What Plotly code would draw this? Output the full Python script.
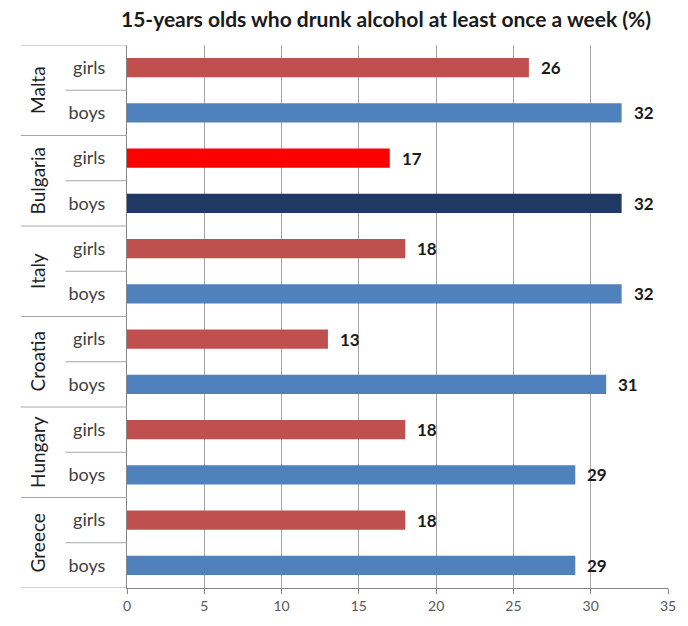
import plotly.graph_objects as go

# Data (bottom to top order)
countries = ["Greece", "Hungary", "Croatia", "Italy", "Bulgaria", "Malta"]
genders = ["boys", "girls"]
boys = [29, 29, 31, 32, 32, 32]
girls = [18, 18, 13, 18, 17, 26]
x_ticks = [0, 5, 10, 15, 20, 25, 30, 35]

GIRL_COLOR = "#C0504D"
BOY_COLOR = "#4F81BD"
HIGHLIGHT = {("Bulgaria", "girls"): "#FF0000", ("Bulgaria", "boys"): "#1F3864"}

cats, vals, colors, ticktext = [], [], [], []
for i, c in enumerate(countries):
    for g in genders:
        v = boys[i] if g == "boys" else girls[i]
        cats.append(f"{c}|{g}")
        vals.append(v)
        ticktext.append(g)
        base = BOY_COLOR if g == "boys" else GIRL_COLOR
        colors.append(HIGHLIGHT.get((c, g), base))

FONT = "Lato, Open Sans, sans-serif"
GRID = "#A6A6A6"

fig = go.Figure()
fig.add_trace(go.Bar(
    y=cats, x=vals, orientation="h",
    marker=dict(color=colors, line=dict(width=0)),
    width=0.42,
    hoverinfo="x+y",
))

# value labels
for cat, v in zip(cats, vals):
    fig.add_annotation(x=v, y=cat, xref="x", yref="y", text=f"<b>{v}</b>",
                       showarrow=False, xanchor="left", xshift=10,
                       font=dict(family=FONT, size=17, color="#1a1a1a"))

# country labels and separators
plot_w = 688 - 127 - 16
for i, c in enumerate(countries):
    fig.add_annotation(x=(37 - 127) / plot_w, y=2 * i + 0.5, xref="paper", yref="y",
                       text=c, textangle=-90, showarrow=False,
                       xanchor="center", yanchor="middle",
                       font=dict(family=FONT, size=19, color="#1f1f1f"))
    fig.add_shape(type="line", xref="paper", yref="y",
                  x0=(65 - 127) / plot_w, x1=0, y0=2 * i + 0.5, y1=2 * i + 0.5,
                  line=dict(color=GRID, width=1))
for k in range(len(countries) + 1):
    yv = 2 * k - 0.5
    fig.add_shape(type="line", xref="paper", yref="y",
                  x0=(20 - 127) / plot_w, x1=0, y0=yv, y1=yv,
                  line=dict(color=GRID, width=1))

fig.update_layout(
    width=688, height=626,
    margin=dict(l=127, r=16, t=45, b=33),
    paper_bgcolor="white", plot_bgcolor="white",
    showlegend=False,
    title=dict(text="<b>15-years olds who drunk alcohol at least once a week (%)</b>",
               x=386 / 688, xanchor="center", xref="container",
               y=1 - 20 / 626, yanchor="middle", yref="container",
               font=dict(family=FONT, size=21, color="#1a1a1a")),
    xaxis=dict(range=[0, 35], tickvals=x_ticks, showgrid=True, gridcolor=GRID,
               gridwidth=1, zeroline=False, showline=True, linecolor="#868686",
               ticks="outside", ticklen=5, tickcolor="#868686",
               tickfont=dict(family=FONT, size=14, color="#595959"),
               fixedrange=True),
    yaxis=dict(type="category", categoryorder="array", categoryarray=cats,
               tickvals=cats, ticktext=ticktext, range=[-0.5, len(cats) - 0.5],
               showgrid=False, showline=True, linecolor="#868686", ticks="",
               ticklabelstandoff=17,
               tickfont=dict(family=FONT, size=18, color="#404040"),
               fixedrange=True),
)

fig.write_html("out.html")
